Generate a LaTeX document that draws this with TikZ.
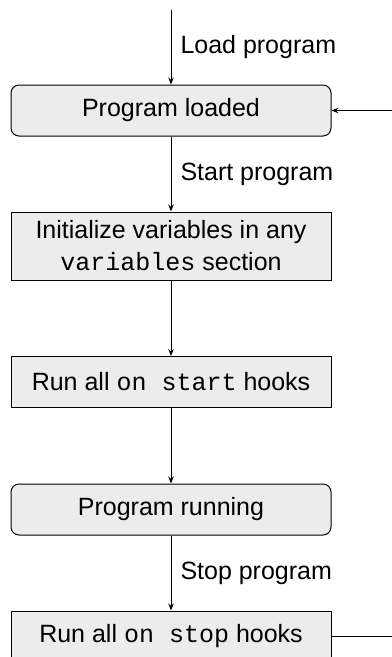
\documentclass[tikz,border=0pt]{standalone}
\usepackage{fontspec}
\setmainfont{Liberation Sans}
\setmonofont{Liberation Mono}
\usetikzlibrary{arrows.meta}

\tikzset{
  state/.style={draw, fill=gray!15, rounded corners=3.2pt, minimum width=128pt,
    minimum height=20.4pt, inner sep=0pt, align=center, line width=0.4pt},
  action/.style={state, sharp corners},
  flow/.style={->, line width=0.4pt},
  event/.style={right, inner sep=3.6pt},
}

\begin{document}
\begin{tikzpicture}[x=1pt, y=1pt, >={Stealth[length=2.8pt,width=2.2pt]}]
\useasboundingbox (0,0) rectangle (156.8,-262.8);

%States
\node[state] (loaded) at (68.4,-44.2) {Program loaded};
\node[action, minimum height=27.2pt, font={\fontsize{10pt}{12.8pt}\selectfont}] (init) at (68.4,-98.4)
  {Initialize variables in any\\\texttt{variables} section};
\node[action] (onstart) at (68.4,-152.8) {Run all \texttt{on start} hooks};
\node[state] (running) at (68.4,-203.8) {Program running};
\node[action] (onstop) at (68.4,-254.6) {Run all \texttt{on stop} hooks};

%Loose ends
\coordinate (entry) at (68.4,-4);
\coordinate (back) at (160,-44.2);
\coordinate (exit) at (160,-254.6);

%Transitions
\draw[flow] (entry) -- node[event] {Load program} (loaded);
\draw[flow] (loaded) -- node[event] {Start program} (init);
\draw[flow] (init) -- (onstart);
\draw[flow] (onstart) -- (running);
\draw[flow] (running) -- node[event] {Stop program} (onstop);
\draw[flow] (back) -- (loaded);
\draw[line width=0.4pt] (onstop) -- (exit);

\end{tikzpicture}
\end{document}
